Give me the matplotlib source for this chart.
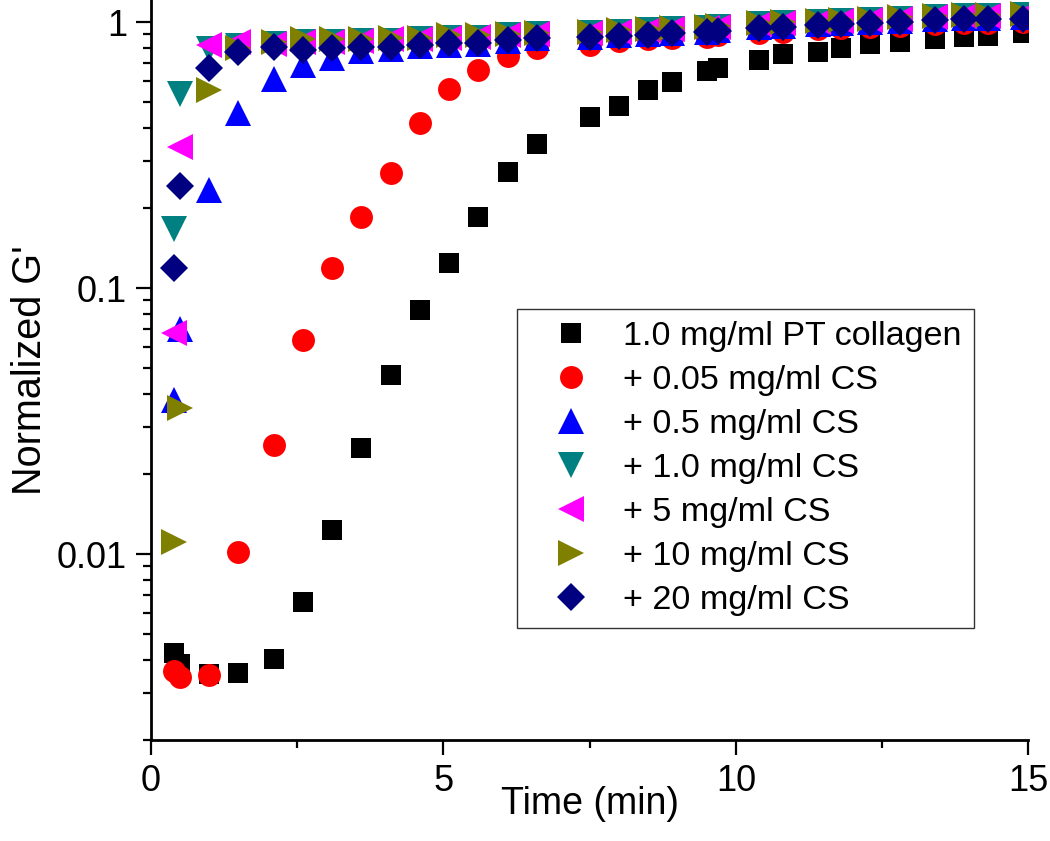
import matplotlib
matplotlib.use("Agg")
import matplotlib.pyplot as plt
from matplotlib.ticker import LogLocator, FixedLocator, NullFormatter, FuncFormatter

plt.rcParams['font.family'] = ['Liberation Sans', 'DejaVu Sans']

# ---- data ----
time_min = [0.4, 0.5, 1.0, 1.5, 2.1, 2.6, 3.1, 3.6, 4.1, 4.6, 5.1, 5.6, 6.1, 6.6,
            7.5, 8.0, 8.5, 8.9, 9.5, 9.7, 10.4, 10.8, 11.4, 11.8, 12.3, 12.8,
            13.4, 13.9, 14.3, 14.9]

pt_collagen = [0.00424, 0.00385, 0.00353, 0.00356, 0.00402, 0.00659, 0.0123, 0.0251,
               0.0472, 0.0828, 0.124, 0.185, 0.272, 0.349, 0.44, 0.483, 0.557, 0.593,
               0.654, 0.669, 0.719, 0.756, 0.773, 0.80, 0.826, 0.839, 0.861, 0.876,
               0.888, 0.906]

cs_005 = [0.00362, 0.00344, 0.00352, 0.0102, 0.0257, 0.0638, 0.119, 0.185, 0.271,
          0.418, 0.558, 0.663, 0.745, 0.796, 0.82, 0.85, 0.86, 0.87, 0.88, 0.89,
          0.91, 0.92, 0.94, 0.95, 0.96, 0.97, 0.98, 0.99, 0.99, 1.0]

cs_05 = [0.038, 0.070, 0.233, 0.456, 0.61, 0.69, 0.73, 0.78, 0.79, 0.81, 0.82, 0.83,
         0.85, 0.87, 0.88, 0.89, 0.90, 0.91, 0.92, 0.935, 0.955, 0.965, 0.98, 0.99,
         1.0, 1.01, 1.025, 1.035, 1.035, 1.045]

cs_1 = [0.167, 0.535, 0.79, 0.81, 0.83, 0.84, 0.84, 0.85, 0.85, 0.86, 0.87, 0.87,
        0.89, 0.90, 0.91, 0.92, 0.93, 0.94, 0.95, 0.96, 0.98, 0.99, 1.0, 1.01,
        1.02, 1.03, 1.04, 1.05, 1.05, 1.06]

cs_5 = [0.068, 0.339, 0.82, 0.84, 0.83, 0.84, 0.84, 0.85, 0.86, 0.86, 0.87, 0.88,
        0.89, 0.90, 0.91, 0.92, 0.93, 0.94, 0.95, 0.96, 0.98, 0.99, 1.0, 1.01,
        1.02, 1.03, 1.04, 1.05, 1.05, 1.06]

cs_10 = [0.0111, 0.0355, 0.555, 0.80, 0.84, 0.86, 0.86, 0.86, 0.87, 0.87, 0.89, 0.89,
         0.90, 0.91, 0.92, 0.93, 0.94, 0.95, 0.96, 0.97, 0.99, 1.0, 1.01, 1.02,
         1.03, 1.04, 1.05, 1.06, 1.06, 1.07]

cs_20 = [0.119, 0.241, 0.669, 0.773, 0.807, 0.784, 0.796, 0.807, 0.807, 0.819, 0.836,
         0.836, 0.855, 0.868, 0.88, 0.888, 0.893, 0.906, 0.914, 0.927, 0.947, 0.955,
         0.974, 0.983, 0.994, 1.003, 1.017, 1.026, 1.026, 1.03]

labels = ["1.0 mg/ml PT collagen", "+ 0.05 mg/ml CS", "+ 0.5 mg/ml CS",
          "+ 1.0 mg/ml CS", "+ 5 mg/ml CS", "+ 10 mg/ml CS", "+ 20 mg/ml CS"]
series = [pt_collagen, cs_005, cs_05, cs_1, cs_5, cs_10, cs_20]
markers = ['s', 'o', '^', 'v', '<', '>', 'D']
sizes = [15, 16.5, 19, 19, 19, 19, 14.5]
colors = ['#000000', '#FF0000', '#0000FF', '#008080', '#FF00FF', '#808000', '#000080']

# ---- figure ----
fig = plt.figure(figsize=(10.5, 8.41), dpi=100)
ax = fig.add_axes([0.1435, 0.1201, 0.8360, 0.8799])

for y, m, s, c, lab in zip(series, markers, sizes, colors, labels):
    ax.plot(time_min, y, linestyle='none', marker=m, markersize=s, color=c,
            markeredgewidth=0, label=lab)

ax.set_yscale('log')
ax.set_xlim(0, 15)
ax.set_ylim(0.002, 1.21)

ax.xaxis.set_major_locator(FixedLocator([0, 5, 10, 15]))
ax.xaxis.set_minor_locator(FixedLocator([2.5, 7.5, 12.5]))
ax.yaxis.set_major_locator(FixedLocator([0.01, 0.1, 1]))
ax.yaxis.set_major_formatter(FuncFormatter(lambda v, p: {0.01: '0.01', 0.1: '0.1', 1: '1'}.get(round(v, 4), '')))
ax.yaxis.set_minor_locator(LogLocator(base=10, subs=range(2, 10)))
ax.yaxis.set_minor_formatter(NullFormatter())

for side in ['top', 'right']:
    ax.spines[side].set_visible(False)
for side in ['left', 'bottom']:
    ax.spines[side].set_linewidth(2.0)

ax.tick_params(which='major', direction='out', length=11, width=1.6, labelsize=26, pad=6)
ax.tick_params(which='minor', direction='out', length=5.5, width=1.6)

ax.set_xlabel("Time (min)", fontsize=27, labelpad=-9)
ax.set_ylabel("Normalized G'", fontsize=28.5, labelpad=6)

leg = ax.legend(loc='upper left', bbox_to_anchor=(0.4924, 0.6326),
                bbox_transform=fig.transFigure, borderaxespad=0,
                fontsize=24.6, frameon=True, fancybox=False, shadow=False,
                borderpad=0.36, labelspacing=0.38, handlelength=2.45,
                handletextpad=0.3, numpoints=1)
leg.get_frame().set_edgecolor('black')
leg.get_frame().set_linewidth(1.0)

fig.savefig("out.png", dpi=100)
